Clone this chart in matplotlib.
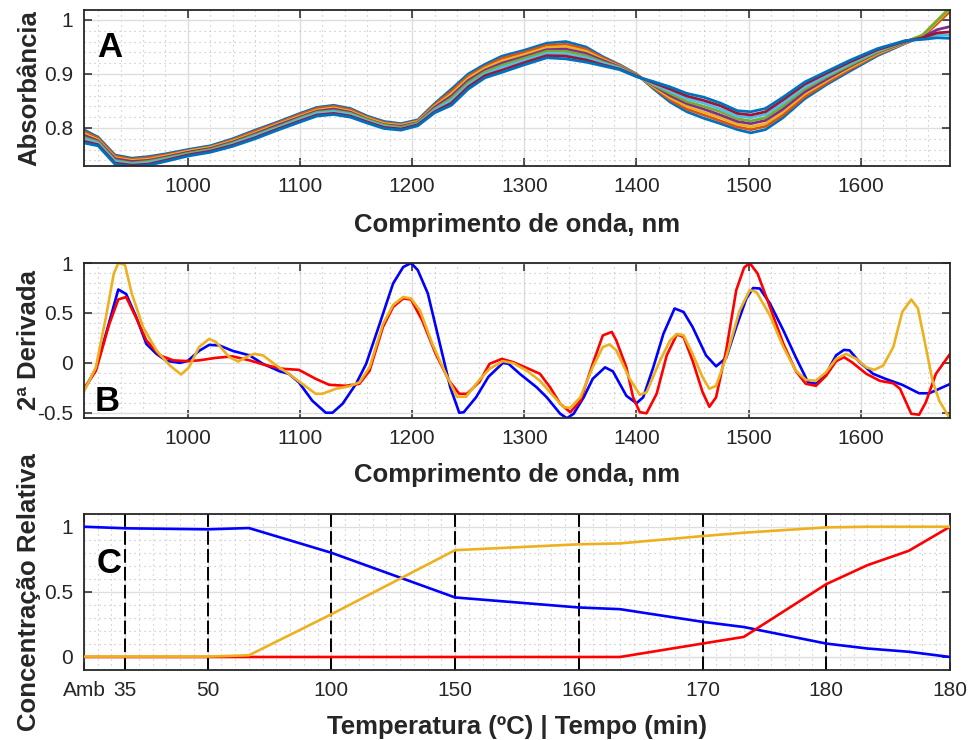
import matplotlib
matplotlib.use('Agg')
import matplotlib.pyplot as plt
from matplotlib.ticker import MultipleLocator

plt.rcParams['font.family'] = 'Liberation Sans'
plt.rcParams['axes.unicode_minus'] = False

# ---- panel A: absorbance spectra ----
wl_a = [908, 920, 935, 950, 965, 980, 1000, 1020, 1040, 1060, 1080, 1100, 1115, 1130, 1145,
        1160, 1175, 1190, 1205, 1220, 1235, 1250, 1265, 1280, 1300, 1320, 1337, 1355, 1370,
        1385, 1400, 1415, 1430, 1445, 1460, 1475, 1490, 1502, 1515, 1530, 1550, 1570, 1590,
        1615, 1640, 1655, 1668, 1680]
s1 = [.796, .783, .750, .744, .747, .752, .760, .767, .780, .796, .811, .827, .838, .842, .836, .822, .812, .808, .815, .845, .872, .900, .918, .933, .944, .957, .960, .950, .932, .917, .900, .873, .848, .830, .818, .808, .797, .791, .797, .818, .854, .881, .905, .934, .957, .970, .995, 1.020]
s2 = [.793, .781, .748, .742, .745, .750, .758, .765, .778, .794, .809, .825, .836, .840, .834, .820, .810, .806, .813, .843, .868, .896, .914, .929, .940, .953, .955, .946, .930, .916, .899, .875, .852, .835, .824, .813, .802, .797, .803, .823, .858, .884, .908, .936, .958, .969, .993, 1.017]
s3 = [.789, .778, .745, .740, .742, .748, .757, .764, .776, .791, .807, .822, .833, .837, .831, .818, .808, .805, .812, .840, .863, .892, .911, .924, .936, .949, .951, .942, .927, .914, .899, .877, .856, .840, .829, .819, .807, .802, .808, .829, .863, .888, .911, .938, .958, .971, .997, 1.022]
s4 = [.786, .776, .743, .738, .740, .746, .755, .762, .774, .789, .805, .820, .831, .835, .829, .816, .806, .803, .810, .838, .859, .888, .907, .920, .932, .945, .946, .938, .925, .913, .898, .879, .860, .845, .835, .824, .812, .808, .814, .834, .867, .891, .914, .940, .959, .968, .982, .988]
s5 = [.782, .774, .740, .735, .738, .744, .753, .760, .772, .787, .802, .818, .829, .832, .827, .815, .805, .801, .809, .835, .855, .884, .904, .916, .929, .942, .942, .934, .922, .912, .897, .880, .864, .849, .840, .830, .817, .813, .819, .840, .872, .895, .916, .941, .960, .972, .999, 1.024]
s6 = [.779, .772, .738, .733, .736, .742, .751, .758, .770, .785, .800, .816, .827, .830, .825, .813, .803, .799, .807, .833, .851, .880, .900, .912, .925, .938, .937, .930, .920, .911, .896, .882, .868, .854, .846, .835, .822, .819, .825, .845, .876, .898, .919, .943, .961, .966, .972, .972]
s7 = [.775, .769, .735, .731, .733, .740, .750, .757, .768, .782, .798, .813, .824, .827, .822, .811, .801, .798, .806, .830, .846, .876, .897, .907, .921, .934, .933, .926, .917, .909, .896, .884, .872, .859, .851, .841, .827, .824, .830, .851, .881, .902, .922, .945, .961, .967, .976, .978]
s8 = [.772, .767, .733, .729, .731, .738, .748, .755, .766, .780, .796, .811, .822, .825, .820, .809, .799, .796, .804, .828, .842, .872, .893, .903, .917, .930, .928, .922, .915, .908, .895, .886, .876, .864, .857, .846, .832, .830, .836, .856, .885, .905, .925, .947, .962, .964, .967, .966]
spectra = [s1, s2, s3, s4, s5, s6, s7, s8]
spec_colors = ['#0072BD', '#D95319', '#EDB120', '#7E2F8E', '#77AC30', '#4DBEEE', '#A2142F', '#0072BD']

# ---- panel B: second derivative ----
wl_blue = [907, 918, 927, 938, 945, 954, 963, 972, 981, 993, 1000, 1010, 1019, 1028, 1040, 1055,
           1067, 1082, 1090, 1099, 1111, 1123, 1129, 1138, 1150, 1159, 1171, 1183, 1192, 1199,
           1205, 1214, 1224, 1234, 1242, 1246, 1257, 1268, 1281, 1286, 1296, 1311, 1320, 1332,
           1338, 1344, 1353, 1361, 1372, 1379, 1391, 1400, 1406, 1415, 1424, 1434, 1442, 1450,
           1462, 1471, 1480, 1489, 1498, 1504, 1510, 1519, 1531, 1542, 1553, 1560, 1569, 1578,
           1585, 1590, 1599, 1611, 1622, 1637, 1652, 1661, 1670, 1680]
d2_blue = [-0.28, -0.06, 0.29, 0.735, 0.69, 0.46, 0.19, 0.09, 0.02, 0.0, 0.02, 0.12, 0.18, 0.175,
           0.12, 0.075, -0.01, -0.085, -0.11, -0.195, -0.38, -0.50, -0.50, -0.41, -0.21, -0.01,
           0.39, 0.795, 0.96, 1.0, 0.93, 0.695, 0.225, -0.245, -0.50, -0.495, -0.345, -0.14, 0.0,
           -0.01, -0.11, -0.245, -0.345, -0.51, -0.555, -0.51, -0.345, -0.16, -0.045, -0.085,
           -0.33, -0.405, -0.345, -0.045, 0.29, 0.545, 0.51, 0.36, 0.075, -0.035, 0.05, 0.36,
           0.645, 0.75, 0.745, 0.595, 0.325, 0.057, -0.195, -0.21, -0.11, 0.075, 0.13, 0.125,
           0.007, -0.11, -0.16, -0.22, -0.305, -0.305, -0.26, -0.21]
wl_red = [907, 918, 930, 938, 945, 954, 963, 975, 987, 1000, 1010, 1025, 1040, 1055, 1070, 1085,
          1099, 1114, 1126, 1141, 1153, 1162, 1174, 1183, 1192, 1199, 1209, 1221, 1233, 1242,
          1249, 1260, 1269, 1280, 1290, 1302, 1314, 1323, 1332, 1341, 1350, 1361, 1370, 1378,
          1382, 1391, 1397, 1403, 1409, 1418, 1427, 1436, 1442, 1450, 1459, 1465, 1471, 1480,
          1489, 1496, 1501, 1508, 1519, 1531, 1542, 1551, 1560, 1569, 1578, 1585, 1592, 1605,
          1617, 1629, 1635, 1645, 1652, 1658, 1667, 1679]
d2_red = [-0.27, -0.08, 0.39, 0.635, 0.66, 0.45, 0.225, 0.075, 0.025, 0.017, 0.025, 0.05, 0.065,
          0.025, -0.025, -0.06, -0.07, -0.16, -0.22, -0.23, -0.21, -0.08, 0.36, 0.56, 0.645,
          0.635, 0.425, 0.09, -0.18, -0.31, -0.31, -0.19, -0.01, 0.04, 0.007, -0.05, -0.11,
          -0.245, -0.41, -0.495, -0.38, -0.01, 0.275, 0.31, 0.225, -0.045, -0.345, -0.495,
          -0.505, -0.31, 0.075, 0.285, 0.26, 0.023, -0.295, -0.44, -0.345, 0.125, 0.73, 0.955,
          1.0, 0.895, 0.56, 0.19, -0.08, -0.21, -0.23, -0.13, 0.017, 0.057, 0.007, -0.11, -0.18,
          -0.205, -0.26, -0.51, -0.52, -0.395, -0.11, 0.08]
wl_orange = [907, 918, 927, 934, 938, 944, 950, 960, 972, 984, 994, 1001, 1010, 1019, 1025, 1037,
             1045, 1052, 1059, 1067, 1079, 1090, 1102, 1114, 1120, 1132, 1144, 1153, 1162, 1174,
             1183, 1192, 1199, 1207, 1218, 1230, 1240, 1248, 1260, 1269, 1281, 1290, 1302, 1314,
             1323, 1335, 1341, 1350, 1361, 1370, 1376, 1382, 1394, 1403, 1409, 1421, 1430, 1436,
             1442, 1450, 1459, 1465, 1471, 1480, 1492, 1501, 1507, 1519, 1531, 1542, 1551, 1560,
             1569, 1578, 1587, 1596, 1605, 1612, 1620, 1629, 1637, 1645, 1651, 1658, 1664, 1670,
             1679]
d2_orange = [-0.295, -0.045, 0.46, 0.895, 1.0, 0.98, 0.695, 0.36, 0.125, -0.027, -0.117, -0.045,
             0.158, 0.24, 0.21, 0.057, 0.013, 0.057, 0.09, 0.075, -0.027, -0.11, -0.21, -0.31,
             -0.31, -0.26, -0.235, -0.195, -0.045, 0.39, 0.58, 0.66, 0.645, 0.525, 0.19, -0.11,
             -0.34, -0.34, -0.17, -0.06, 0.017, -0.003, -0.077, -0.18, -0.295, -0.445, -0.45,
             -0.345, -0.045, 0.158, 0.185, 0.125, -0.16, -0.32, -0.295, 0.023, 0.225, 0.29, 0.275,
             0.09, -0.145, -0.26, -0.23, 0.057, 0.525, 0.73, 0.71, 0.475, 0.158, -0.077, -0.17,
             -0.18, -0.094, 0.04, 0.09, 0.04, -0.045, -0.07, -0.027, 0.158, 0.51, 0.635, 0.545,
             0.158, -0.18, -0.38, -0.55]

# ---- panel C: relative concentration ----
c_x = [0, 1, 3, 4, 6, 9, 12, 13, 15, 16, 18, 19, 20, 21]
c_blue = [1.0, 0.988, 0.98, 0.99, 0.80, 0.457, 0.38, 0.367, 0.27, 0.23, 0.103, 0.065, 0.04, 0.0]
c_red = [0, 0, 0, 0, 0, 0, 0, 0, 0.103, 0.154, 0.559, 0.705, 0.815, 1.0]
c_orange = [0.003, 0.003, 0.003, 0.013, 0.328, 0.82, 0.865, 0.872, 0.928, 0.954, 0.995, 1.0, 1.0, 1.0]
c_ticks = [0, 1, 3, 6, 9, 12, 15, 18, 21]
c_ticklabels = ['Amb', '35', '50', '100', '150', '160', '170', '180', '180']

BLUE, RED, ORANGE = '#0000FF', '#FF0000', '#EDB120'
TXT = '#262626'


def style(ax):
    ax.tick_params(which='major', direction='in', length=6, width=1.1, top=True, right=True,
                   labelsize=15, pad=8, colors=TXT)
    ax.tick_params(which='minor', length=0, top=True, right=True)
    for s in ax.spines.values():
        s.set_linewidth(1.3)
        s.set_color(TXT)
    ax.grid(which='major', color='#dedede', lw=1.0)
    ax.grid(which='minor', color='#bdbdbd', lw=0.8, linestyle=(0, (1, 3.5)))
    ax.set_axisbelow(True)


fig = plt.figure(figsize=(9.73, 7.40), dpi=100)
axA = fig.add_axes([0.0863, 0.7757, 0.890, 0.2108])
axB = fig.add_axes([0.0863, 0.4355, 0.890, 0.2090])
axC = fig.add_axes([0.0863, 0.0946, 0.890, 0.2112])

# A
for spec, col in zip(spectra, spec_colors):
    axA.plot(wl_a, spec, color=col, lw=2.0)
axA.set_xlim(907.4, 1679.5)
axA.set_ylim(0.7296, 1.0185)
axA.set_xticks(range(1000, 1700, 100))
axA.set_yticks([0.8, 0.9, 1.0])
axA.set_yticklabels(['0.8', '0.9', '1'])
axA.xaxis.set_minor_locator(MultipleLocator(20))
axA.yaxis.set_minor_locator(MultipleLocator(0.02))
style(axA)
axA.set_xlabel('Comprimento de onda, nm', fontsize=18.5, fontweight='bold', color=TXT)
axA.set_ylabel('Absorbância', fontsize=18.5, fontweight='bold', color=TXT)
axA.xaxis.set_label_coords(0.5, -0.301)
axA.text(0.015, 0.699, 'A', transform=axA.transAxes, fontsize=25, fontweight='bold',
         va='baseline', ha='left')

# B
axB.plot(wl_blue, d2_blue, color=BLUE, lw=1.9)
axB.plot(wl_red, d2_red, color=RED, lw=1.9)
axB.plot(wl_orange, d2_orange, color=ORANGE, lw=1.9)
axB.set_xlim(907.4, 1679.5)
axB.set_ylim(-0.55, 1.0)
axB.set_xticks(range(1000, 1700, 100))
axB.set_yticks([-0.5, 0, 0.5, 1])
axB.set_yticklabels(['-0.5', '0', '0.5', '1'])
axB.xaxis.set_minor_locator(MultipleLocator(20))
axB.yaxis.set_minor_locator(MultipleLocator(0.1))
style(axB)
axB.set_xlabel('Comprimento de onda, nm', fontsize=18.5, fontweight='bold', color=TXT)
axB.set_ylabel('2ª Derivada', fontsize=18.5, fontweight='bold', color=TXT)
axB.xaxis.set_label_coords(0.5, -0.293)
axB.text(0.012, 0.043, 'B', transform=axB.transAxes, fontsize=25, fontweight='bold',
         va='baseline', ha='left')

# C
for xv in c_ticks[1:-1]:
    axC.axvline(xv, color='black', lw=1.4, linestyle=(0, (7, 2.2)), zorder=1.5)
axC.plot(c_x, c_blue, color=BLUE, lw=1.9, zorder=3)
axC.plot(c_x, c_red, color=RED, lw=1.9, zorder=3)
axC.plot(c_x, c_orange, color=ORANGE, lw=1.9, zorder=3)
axC.set_xlim(0, 21)
axC.set_ylim(-0.1, 1.1)
axC.set_xticks(c_ticks)
axC.set_xticklabels(c_ticklabels)
axC.set_yticks([0, 0.5, 1])
axC.set_yticklabels(['0', '0.5', '1'])
axC.xaxis.set_minor_locator(MultipleLocator(1 / 3))
axC.yaxis.set_minor_locator(MultipleLocator(0.1))
style(axC)
axC.set_xlabel('Temperatura (ºC) | Tempo (min)', fontsize=18.5, fontweight='bold', color=TXT)
axC.set_ylabel('Concentração Relativa', fontsize=18.5, fontweight='bold', color=TXT)
axC.xaxis.set_label_coords(0.5, -0.288)
axC.text(0.015, 0.623, 'C', transform=axC.transAxes, fontsize=25, fontweight='bold',
         va='baseline', ha='left')

for ax in (axA, axB, axC):
    ax.yaxis.set_label_coords(-0.0497, 0.5)

fig.savefig('out.png', dpi=100)
